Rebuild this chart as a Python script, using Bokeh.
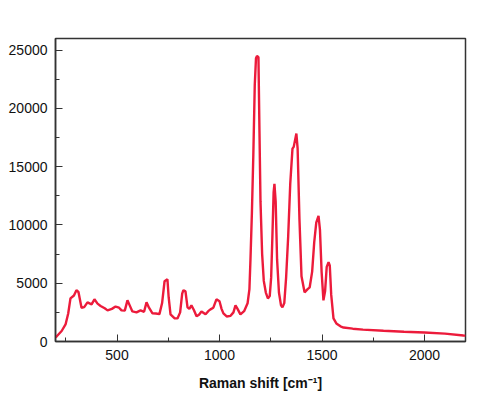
from bokeh.plotting import figure
from bokeh.models import Range1d, SingleIntervalTicker
from bokeh.embed import file_html
from bokeh.resources import INLINE

# Raman shift (cm^-1)
shift = [200, 205, 230, 249, 262, 273, 290, 302, 312, 327, 340, 356, 376, 390, 405,
         420, 440, 454, 475, 493, 510, 522, 538, 551, 562, 575, 595, 615, 632, 644,
         656, 673, 690, 707, 720, 732, 746, 752, 761, 780, 795, 808, 818, 824, 834,
         844, 853, 863, 875, 888, 900, 912, 932, 945, 956, 970, 985, 1000, 1010, 1019,
         1035, 1054, 1068, 1078, 1088, 1102, 1120, 1137, 1146, 1151, 1158, 1165, 1172,
         1178, 1183, 1190, 1195, 1200, 1208, 1216, 1226, 1236, 1245, 1252, 1258, 1264,
         1268, 1274, 1281, 1290, 1300, 1307, 1316, 1325, 1335, 1345, 1356, 1362, 1375,
         1381, 1390, 1400, 1415, 1430, 1440, 1452, 1462, 1472, 1483, 1490, 1498, 1507,
         1515, 1523, 1532, 1538, 1545, 1556, 1570, 1590, 1605, 1650, 1700, 1800, 1900,
         2000, 2100, 2190, 2200]
# Intensity (counts)
intensity = [350, 430, 900, 1465, 2400, 3700, 3950, 4400, 4250, 2900, 2950, 3360, 3190, 3620, 3250,
             3050, 2850, 2670, 2800, 3000, 2900, 2670, 2650, 3530, 3100, 2580, 2500, 2670, 2550, 3360,
             2900, 2410, 2400, 2350, 3300, 5170, 5340, 3800, 2330, 2000, 1980, 2500, 4100, 4400, 4300,
             2930, 2800, 3100, 2700, 2160, 2300, 2580, 2330, 2600, 2760, 2900, 3620, 3450, 2800, 2410,
             2150, 2200, 2500, 3100, 2800, 2330, 2600, 3280, 4500, 7000, 11000, 16000, 22000,
             24300, 24500, 24400, 18000, 12000, 7500, 5200, 4200, 3700, 3900, 5500, 9000, 12800,
             13530, 12000, 7000, 4200, 3100, 2930, 3300, 5500, 9000, 13500, 16550, 16700, 17840,
             16600, 10500, 5600, 4220, 4500, 4650, 6000, 8500, 10200, 10780, 9600, 6000, 3530,
             4300, 6400, 6810, 6500, 4000, 1980, 1550, 1300, 1200, 1100, 1020, 920, 840,
             775, 680, 517, 500]

p = figure(width=480, height=399, output_backend="svg", toolbar_location=None,
           x_range=Range1d(200, 2200), y_range=Range1d(0, 26000),
           min_border_left=55, min_border_right=15, min_border_top=38, min_border_bottom=58)

p.line(shift, intensity, line_color="#ec1b3b", line_width=2.4)

p.xgrid.visible = False
p.ygrid.visible = False
p.outline_line_color = "#333333"
p.outline_line_width = 1.5
p.background_fill_color = "white"
p.border_fill_color = "white"

p.xaxis.ticker = SingleIntervalTicker(interval=500, num_minor_ticks=2)
p.yaxis.ticker = SingleIntervalTicker(interval=5000, num_minor_ticks=2)

for ax in (p.xaxis, p.yaxis):
    ax.axis_line_color = "#333333"
    ax.axis_line_width = 1.5
    ax.major_tick_in = 7
    ax.major_tick_out = 0
    ax.minor_tick_in = 4
    ax.minor_tick_out = 0
    ax.major_tick_line_color = "#333333"
    ax.minor_tick_line_color = "#333333"
    ax.major_label_text_font = "Liberation Sans"
    ax.major_label_text_font_size = "14px"
    ax.major_label_text_color = "#111111"
    ax.major_label_standoff = 8

p.xaxis.axis_label = "Raman shift [cm\u207b\u00b9]"
p.xaxis.axis_label_text_font = "Liberation Sans"
p.xaxis.axis_label_text_font_style = "bold"
p.xaxis.axis_label_text_font_size = "14px"
p.xaxis.axis_label_text_color = "#111111"
p.xaxis.axis_label_standoff = 12

open("out.html", "w").write(file_html(p, INLINE))
